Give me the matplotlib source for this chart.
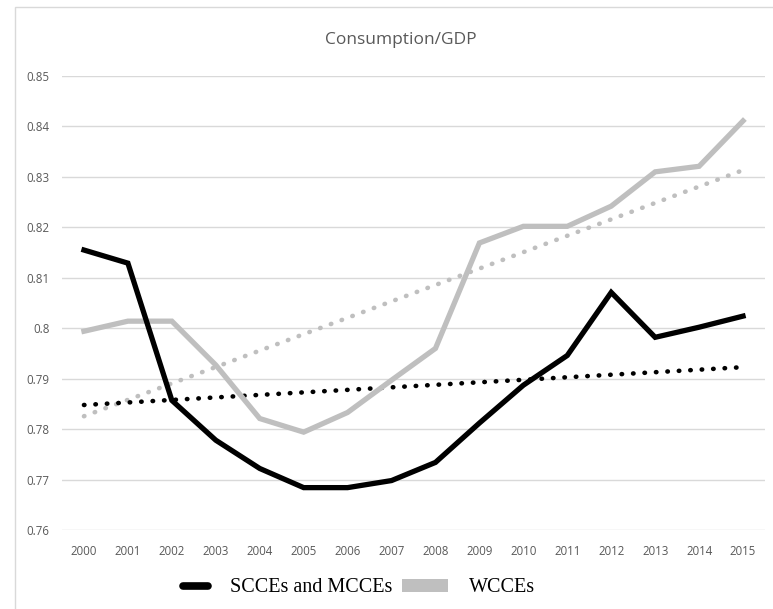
import numpy as np
import matplotlib
matplotlib.use("Agg")
import matplotlib.pyplot as plt
from matplotlib.lines import Line2D
from matplotlib.patches import Patch, Rectangle
from matplotlib.legend_handler import HandlerLine2D

years = ['2000', '2001', '2002', '2003', '2004', '2005', '2006', '2007',
         '2008', '2009', '2010', '2011', '2012', '2013', '2014', '2015']
scces_mcces = [0.8155, 0.8129, 0.7857, 0.7778, 0.7722, 0.7684, 0.7684, 0.7698,
               0.7734, 0.7812, 0.7887, 0.7946, 0.8071, 0.7982, 0.8002, 0.8024]
wcces = [0.7994, 0.8014, 0.8014, 0.7927, 0.7821, 0.7794, 0.7833, 0.7897,
         0.7960, 0.8169, 0.8202, 0.8202, 0.8242, 0.8310, 0.8321, 0.8411]
yticks = [0.76, 0.77, 0.78, 0.79, 0.80, 0.81, 0.82, 0.83, 0.84, 0.85]
ytick_labels = ['0.76', '0.77', '0.78', '0.79', '0.8', '0.81', '0.82', '0.83', '0.84', '0.85']

black = '#000000'
grey = '#BFBFBF'
text_grey = '#595959'


class RightLine(HandlerLine2D):
    # short line drawn in the right part of the handle box
    def get_xdata(self, legend, xdescent, ydescent, width, height, fontsize):
        x0 = -xdescent + width * 0.42
        x1 = -xdescent + width * 0.97
        return np.array([x0, x1]), np.array([(x0 + x1) / 2])


fig = plt.figure(figsize=(7.73, 6.09), dpi=100)
ax = fig.add_axes([62/773, 79/609, 703/773, 454/609])

x = np.arange(len(years))

# linear trendlines (least squares, like Excel)
k1, b1 = np.polyfit(x, scces_mcces, 1)
k2, b2 = np.polyfit(x, wcces, 1)
dots = (0, (0.1, 2.4))
ax.plot(x, k2 * x + b2, color=grey, lw=3.3, linestyle=dots, dash_capstyle='round', zorder=2)
ax.plot(x, k1 * x + b1, color=black, lw=3.3, linestyle=dots, dash_capstyle='round', zorder=2)

ax.plot(x, wcces, color=grey, lw=3.8, solid_joinstyle='miter', zorder=3)
ax.plot(x, scces_mcces, color=black, lw=3.8, solid_joinstyle='miter', zorder=4)

ax.set_xlim(-0.5, len(years) - 0.5)
ax.set_ylim(0.76, 0.85)
ax.set_yticks(yticks)
ax.set_yticklabels(ytick_labels)
ax.set_xticks(x)
ax.set_xticklabels(years)
for s in ax.spines.values():
    s.set_visible(False)
ax.tick_params(axis='both', length=0, labelsize=8.3, labelcolor=text_grey)
ax.tick_params(axis='y', pad=9)
ax.tick_params(axis='x', pad=11)
for lab in ax.get_xticklabels() + ax.get_yticklabels():
    lab.set_family('Open Sans')
ax.yaxis.grid(True, color='#D9D9D9', lw=1.0)
ax.set_axisbelow(True)

fig.text(401/773, 1 - 40/609, 'Consumption/GDP', ha='center', va='center',
         fontsize=12.5, color=text_grey, family='Open Sans')

# chart border
fig.patches.append(Rectangle((15/773, -0.1), 1.1, 1 - 7/609 + 0.1, transform=fig.transFigure,
                             fill=False, edgecolor='#D9D9D9', lw=1.0))

handles = [Line2D([0], [0], color=black, lw=5.5, solid_capstyle='round'),
           Patch(facecolor=grey, edgecolor='none')]
fig.legend(handles, ['SCCEs and MCCEs', 'WCCEs'], loc='center', bbox_to_anchor=(349/773, 1 - 588/609),
           ncol=2, frameon=False, prop={'family': 'Liberation Serif', 'size': 14.5},
           handlelength=2.3, handleheight=0.65, handletextpad=1.0, columnspacing=0.5,
           handler_map={Line2D: RightLine()})

fig.savefig('out.png', dpi=100)
